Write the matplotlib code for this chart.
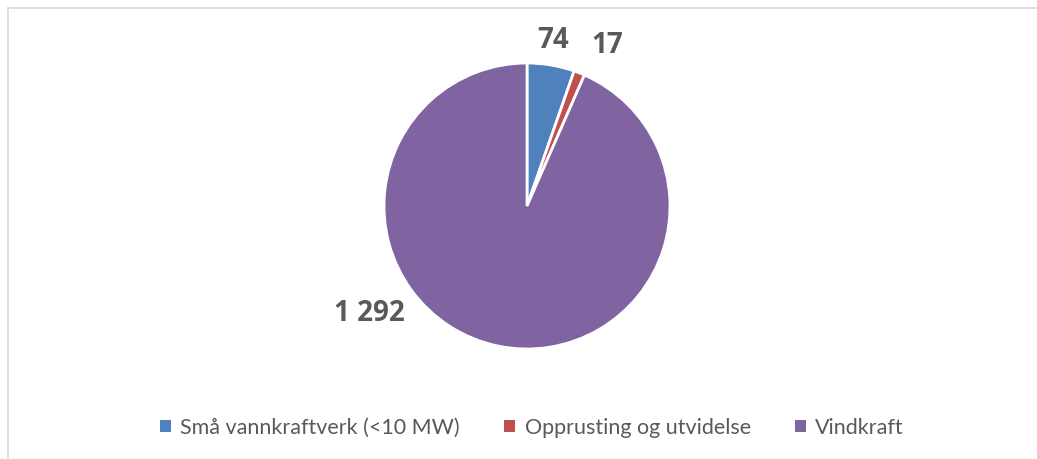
import matplotlib
matplotlib.use("Agg")
import matplotlib.pyplot as plt
from matplotlib.lines import Line2D
from matplotlib.patches import Patch
import numpy as np

categories = ["Små vannkraftverk (<10 MW)", "Opprusting og utvidelse", "Vindkraft"]
values = [74, 17, 1292]
value_labels = ["74", "17", "1 292"]
colors = ["#4F81BD", "#C0504D", "#8064A2"]

W, H = 1037, 459
fig = plt.figure(figsize=(W / 100, H / 100), dpi=100)
fig.patch.set_facecolor("white")

# chart border (left and top visible)
fig.add_artist(Line2D([7.5 / W, 7.5 / W], [0, 1 - 7.5 / H], color="#D9D9D9", lw=1.2))
fig.add_artist(Line2D([7.5 / W, 1], [1 - 7.5 / H, 1 - 7.5 / H], color="#D9D9D9", lw=1.2))

cx, cy, r = 527, 206, 143
ax = fig.add_axes([(cx - r) / W, 1 - (cy + r) / H, 2 * r / W, 2 * r / H])
wedges, _ = ax.pie(values, colors=colors, startangle=90, counterclock=False,
                   radius=1, wedgeprops=dict(edgecolor="white", linewidth=2))
ax.set_xlim(-1, 1)
ax.set_ylim(-1, 1)
ax.set_aspect("equal")
ax.axis("off")

label_pos = [(0.18, 1.16), (0.56, 1.12), (-1.10, -0.75)]
for lab, (x, y) in zip(value_labels, label_pos):
    ax.text(x, y, lab, ha="center", va="center", fontsize=20, fontweight="bold",
            color="#595959", family="Open Sans", clip_on=False)

handles = [Patch(facecolor=c, edgecolor="none") for c in colors]
leg = fig.legend(handles, categories, loc="center", bbox_to_anchor=(532 / W, 1 - 428 / H),
                 ncol=3, frameon=False, handlelength=0.5, handleheight=0.5,
                 handletextpad=0.45, columnspacing=2.05,
                 prop=dict(family="Lato", size=15.5))
for t in leg.get_texts():
    t.set_color("#595959")

fig.savefig("out.png", dpi=100, facecolor="white")
